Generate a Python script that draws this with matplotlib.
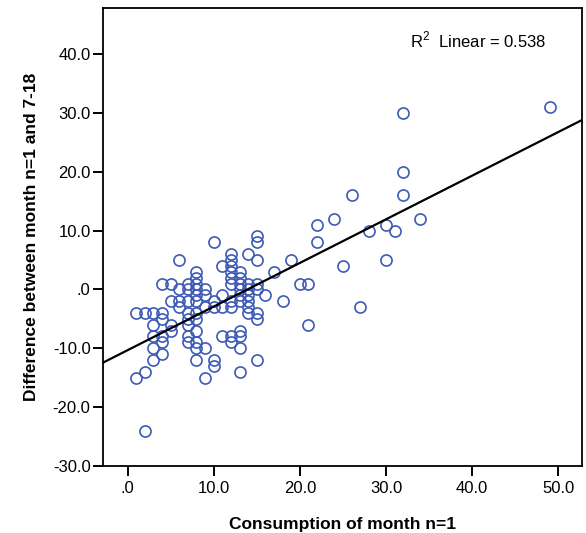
import numpy as np
import matplotlib
matplotlib.use("Agg")
import matplotlib.pyplot as plt
from matplotlib.ticker import FuncFormatter

plt.rcParams['font.family'] = ['Liberation Sans', 'DejaVu Sans']
plt.rcParams['mathtext.fontset'] = 'custom'
plt.rcParams['mathtext.rm'] = 'Liberation Sans'

# consumption of month n=1 (x) and difference between month n=1 and 7-18 (y)
cons = ([1] * 2 + [2] * 3 + [3] * 5 + [4] * 6 + [5] * 4 + [6] * 4 + [7] * 8
        + [8] * 12 + [9] * 5 + [10] * 5 + [11] * 4 + [12] * 10 + [13] * 10
        + [14] * 7 + [15] * 8
        + [16, 17, 18, 19, 20, 21, 21, 22, 22, 24, 25, 26, 27, 28, 30, 30,
           31, 32, 32, 32, 34, 49])
diff = ([-4, -15]
        + [-4, -14, -24]
        + [-4, -6, -8, -10, -12]
        + [1, -4, -5, -8, -9, -11]
        + [1, -2, -6, -7]
        + [5, 0, -2, -3]
        + [1, 0, -2, -4, -5, -6, -8, -9]
        + [3, 2, 1, 0, -1, -2, -4, -5, -7, -9, -10, -12]
        + [0, -1, -3, -10, -15]
        + [8, -2, -3, -12, -13]
        + [4, -1, -3, -8]
        + [6, 5, 4, 3, 2, 1, -2, -3, -8, -9]
        + [3, 2, 1, 0, -1, -2, -7, -8, -10, -14]
        + [6, 1, 0, -1, -2, -3, -4]
        + [9, 8, 5, 1, 0, -4, -5, -12]
        + [-1, 3, -2, 5, 1, 1, -6, 11, 8, 12, 4, 16, -3, 10, 11, 5,
           10, 30, 20, 16, 12, 31])

r2_text = r"R$^{\mathregular{2}}$  Linear = 0.538"

x = np.array(cons, dtype=float)
y = np.array(diff, dtype=float)

fig = plt.figure(figsize=(5.86, 5.33), dpi=100)
ax = fig.add_axes([103 / 586, 67 / 533, 479 / 586, 458 / 533])

ax.plot(x, y, linestyle='none', marker='o', markersize=8,
        markerfacecolor='none', markeredgecolor='#3d5ab5', markeredgewidth=1.2)

# linear fit
xlim = (-2.85, 52.75)
slope, intercept = np.polyfit(x, y, 1)
xs = np.array(xlim)
ax.plot(xs, slope * xs + intercept, color='black', lw=1.6)

ax.set_xlim(xlim)
ax.set_ylim(-30, 47.8)
ax.set_xticks(np.arange(0, 51, 10))
ax.set_yticks(np.arange(-30, 41, 10))


def fmt(v, pos):
    s = f"{v:.1f}"
    if s.startswith("0."):
        s = s[1:]
    elif s.startswith("-0."):
        s = "-" + s[2:]
    return s


ax.xaxis.set_major_formatter(FuncFormatter(fmt))
ax.yaxis.set_major_formatter(FuncFormatter(fmt))
ax.tick_params(direction='out', length=7, width=1.4, labelsize=12, colors='black')
ax.tick_params(axis='x', pad=4)
ax.tick_params(axis='y', pad=2)
for sp in ax.spines.values():
    sp.set_linewidth(1.3)

ax.set_xlabel("Consumption of month n=1", fontsize=12.5, fontweight='bold', labelpad=15)
ax.set_ylabel("Difference between month n=1 and 7-18", fontsize=12.5, fontweight='bold', labelpad=10)

ax.text(0.783, 0.93, r2_text, transform=ax.transAxes, fontsize=12, ha='center', va='center')

fig.savefig("out.png", dpi=100)
